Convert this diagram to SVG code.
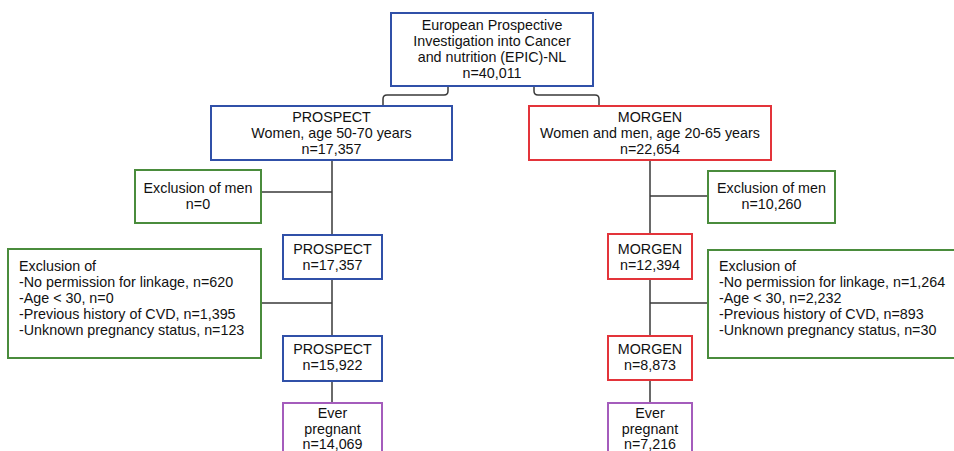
<svg xmlns="http://www.w3.org/2000/svg" width="954" height="451" viewBox="0 0 954 451">
<style>
text{font-family:"Liberation Sans",Arial,sans-serif;font-size:14.3px;fill:#111}
.c{text-anchor:middle}
.box{fill:#fff;stroke-width:2}
.blue{stroke:#3050a8}
.red{stroke:#e3343a}
.green{stroke:#4a8c3c}
.purple{stroke:#a45cbc}
.ln{fill:none;stroke:#3a3a3a;stroke-width:1.5}
</style>
<rect width="954" height="451" fill="#fff"/>
<g id="connectors">
<path class="ln" d="M448,86 V91 Q448,95 444,95 H387 Q383,95 383,99 V106"/>
<path class="ln" d="M534,86 V91 Q534,95 538,95 H595 Q599,95 599,99 V106"/>
<path class="ln" d="M332,160 V235 M261,192 H332 M332,279 V336 M261,303 H332 M332,381 V403"/>
<path class="ln" d="M650,160 V234 M650,196 H708 M650,279 V336 M650,303 H708 M650,380 V403"/>
</g>
<g id="epic">
<rect class="box blue" x="391" y="13" width="202" height="73"/>
<text class="c" x="492" y="30">European Prospective</text>
<text class="c" x="492" y="46">Investigation into Cancer</text>
<text class="c" x="492" y="62">and nutrition (EPIC)-NL</text>
<text class="c" x="492" y="78">n=40,011</text>
</g>
<g id="prospect1">
<rect class="box blue" x="211" y="106" width="241" height="54"/>
<text class="c" x="331.5" y="122">PROSPECT</text>
<text class="c" x="331.5" y="138">Women, age 50-70 years</text>
<text class="c" x="331.5" y="154">n=17,357</text>
</g>
<g id="morgen1">
<rect class="box red" x="529" y="106" width="242" height="54"/>
<text class="c" x="650" y="122">MORGEN</text>
<text class="c" x="650" y="138">Women and men, age 20-65 years</text>
<text class="c" x="650" y="154">n=22,654</text>
</g>
<g id="excl-men-left">
<rect class="box green" x="135" y="170" width="126" height="53"/>
<text class="c" x="198" y="193">Exclusion of men</text>
<text class="c" x="198" y="209">n=0</text>
</g>
<g id="excl-men-right">
<rect class="box green" x="708" y="171" width="127" height="52"/>
<text class="c" x="771.5" y="193">Exclusion of men</text>
<text class="c" x="771.5" y="209">n=10,260</text>
</g>
<g id="prospect2">
<rect class="box blue" x="283" y="235" width="99" height="44"/>
<text class="c" x="332.5" y="254">PROSPECT</text>
<text class="c" x="332.5" y="270">n=17,357</text>
</g>
<g id="morgen2">
<rect class="box red" x="608" y="234" width="84" height="45"/>
<text class="c" x="650" y="254">MORGEN</text>
<text class="c" x="650" y="270">n=12,394</text>
</g>
<g id="excl-left">
<rect class="box green" x="8" y="249" width="253" height="109"/>
<text x="19" y="271">Exclusion of</text>
<text x="19" y="287">-No permission for linkage, n=620</text>
<text x="19" y="303">-Age &lt; 30, n=0</text>
<text x="19" y="319">-Previous history of CVD, n=1,395</text>
<text x="19" y="335">-Unknown pregnancy status, n=123</text>
</g>
<g id="excl-right">
<rect class="box green" x="708" y="250" width="262" height="108"/>
<text x="719" y="271">Exclusion of</text>
<text x="719" y="287">-No permission for linkage, n=1,264</text>
<text x="719" y="303">-Age &lt; 30, n=2,232</text>
<text x="719" y="319">-Previous history of CVD, n=893</text>
<text x="719" y="335">-Unknown pregnancy status, n=30</text>
</g>
<g id="prospect3">
<rect class="box blue" x="283" y="336" width="99" height="45"/>
<text class="c" x="332.5" y="354">PROSPECT</text>
<text class="c" x="332.5" y="370">n=15,922</text>
</g>
<g id="morgen3">
<rect class="box red" x="608" y="336" width="84" height="44"/>
<text class="c" x="650" y="354">MORGEN</text>
<text class="c" x="650" y="370">n=8,873</text>
</g>
<g id="ever-left">
<rect class="box purple" x="283" y="403" width="99" height="62"/>
<text class="c" x="332.5" y="418">Ever</text>
<text class="c" x="332.5" y="434">pregnant</text>
<text class="c" x="332.5" y="449">n=14,069</text>
</g>
<g id="ever-right">
<rect class="box purple" x="608" y="403" width="84" height="62"/>
<text class="c" x="650" y="418">Ever</text>
<text class="c" x="650" y="434">pregnant</text>
<text class="c" x="650" y="449">n=7,216</text>
</g>
</svg>
